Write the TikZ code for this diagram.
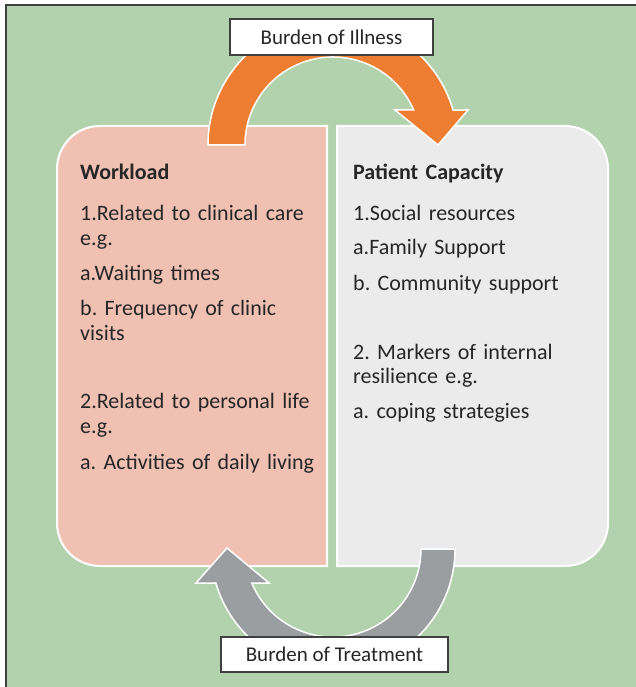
\documentclass[tikz,border=0pt]{standalone}
\usepackage{fontspec}
\setmainfont{Carlito}
\frenchspacing
\begin{document}
\definecolor{panelgreen}{RGB}{178,210,173}
\definecolor{workfill}{RGB}{240,193,178}
\definecolor{capfill}{RGB}{235,235,235}
\definecolor{illness}{RGB}{237,125,49}
\definecolor{treatment}{RGB}{155,158,161}
\definecolor{inktext}{RGB}{38,38,38}
\definecolor{framegray}{RGB}{64,64,64}
\begin{tikzpicture}[x=1pt,y=-1pt,
  panel/.style={draw=white,line width=2pt},
  curvedarrow/.style={draw=white,line width=1.5pt,line join=miter},
  bodytext/.style={anchor=base west,inner sep=0pt,text width=#1,align=left,
    text=inktext,font=\fontsize{22}{25.5}\selectfont\frenchspacing},
  burdenlabel/.style={draw=framegray,line width=1.3pt,fill=white,inner sep=0pt,
    minimum height=#1,text=inktext,font=\fontsize{21}{24}\selectfont}]
  \useasboundingbox (0,0) rectangle (635,687);
  \fill[white] (0,0) rectangle (635,687);
  % green panel with its dark top and left edges
  \fill[panelgreen] (6,5) rectangle (645,697);
  \draw[framegray,line width=1.5pt] (6,697) -- (6,5) -- (645,5);

  % workload panel, rounded on its left side
  \path[panel,fill=workfill] (327,126) -- (100,126)
    arc[start angle=270,end angle=180,radius=43] -- (57,523)
    arc[start angle=180,end angle=90,radius=43] -- (327,566) -- cycle;
  % patient capacity panel, rounded on its right side
  \path[panel,fill=capfill] (337,126) -- (565,126)
    arc[start angle=270,end angle=360,radius=43] -- (608,523)
    arc[start angle=0,end angle=90,radius=43] -- (337,566) -- cycle;

  \node[bodytext=245pt] (workload) at (80,179) {\textbf{Workload}\\[15.5pt]
    1.Related to clinical care\\e.g.\\[9pt]
    a.Waiting times\\[9.5pt]
    b. Frequency of clinic\\visits\\[42pt]
    2.Related to personal life\\e.g.\\[10.5pt]
    a. Activities of daily living};
  \node[bodytext=250pt] (capacity) at (353,179) {\textbf{Patient Capacity}\\[15.5pt]
    1.Social resources\\[8.5pt]
    a.Family Support\\[10.5pt]
    b. Community support\\[43.5pt]
    2. Markers of internal\\[-1pt]resilience e.g.\\[9.5pt]
    a. coping strategies};

  % burden of illness: orange arc from workload to capacity
  \path[curvedarrow,fill=illness] (208,145)
    arc[start angle=180,end angle=343.74,radius=125] -- (468,110) -- (438,145)
    -- (395,110) -- (413.7,110)
    arc[start angle=336.57,end angle=180,radius=88] -- cycle;
  % burden of treatment: grey arc from capacity back to workload
  \path[curvedarrow,fill=treatment] (455,549)
    arc[start angle=0,end angle=163.82,radius=122] -- (196,583) -- (227,548)
    -- (269,583) -- (251.8,583)
    arc[start angle=157.27,end angle=0,radius=88] -- cycle;

  \node[burdenlabel=36pt,minimum width=203pt] (illnesslabel) at (331.5,37) {Burden of Illness};
  \node[burdenlabel=35pt,minimum width=227pt] (treatmentlabel) at (334.5,654.5) {Burden of Treatment\hspace{6pt}};
\end{tikzpicture}
\end{document}
